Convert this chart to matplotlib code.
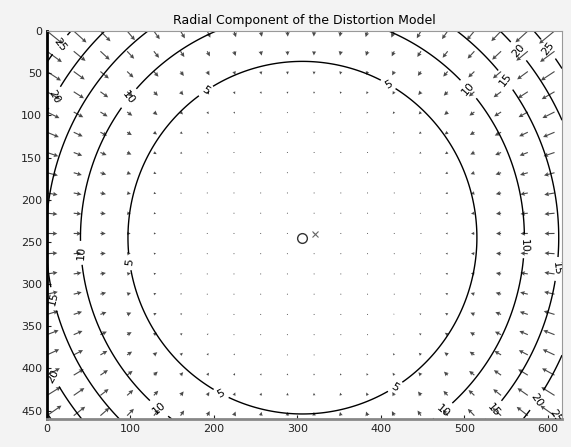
import numpy as np
import matplotlib
matplotlib.use('Agg')
import matplotlib.pyplot as plt

# image size and quiver grid steps
nx, ny = 640, 480
nstep = 20

# principal point (o) and image centre (x)
cc = [306, 245]
img_center = [320.5, 240.5]

# radial distortion in pixels: d(r) = c1*r^3 + c2*r^5 (fitted to the contour radii)
c1 = 5.73e-7
c2 = -5.81e-13

levels = [5, 10, 15, 20, 25]

# where the contour labels sit (data coords)
label_pos = [(96, 274), (191, 72), (406, 68), (209, 429), (414, 417),
             (41, 263), (96, 78), (506, 68), (568, 255), (476, 452), (138, 443),
             (6, 318), (610, 282), (552, 56), (536, 450),
             (8, 78), (566, 23), (580, 433), (11, 407),
             (14, 15), (598, 23), (608, 455)]

xlim = (0, 617)
ylim = (460, 0)


def displacement(x, y):
    dx = x - cc[0]
    dy = y - cc[1]
    r2 = dx**2 + dy**2
    f = c1 * r2 + c2 * r2**2
    return -f * dx, -f * dy


fig = plt.figure(figsize=(5.71, 4.47), dpi=100, facecolor='#f3f3f3')
ax = fig.add_axes([0.0823, 0.0626, 0.902, 0.868])
ax.set_facecolor('white')

# arrows
u, v = np.meshgrid(np.arange(0, nx, nx / nstep), np.arange(0, ny, ny / nstep))
du, dv = displacement(u, v)
ax.quiver(u, v, du, dv, angles='xy', scale_units='xy', scale=1.2,
          color='#4a4a4a', width=0.0022, headwidth=4, headlength=4,
          headaxislength=3.5)

# contours of the radial displacement magnitude
xs = np.linspace(xlim[0], xlim[1], 400)
ys = np.linspace(0, ylim[0], 300)
X, Y = np.meshgrid(xs, ys)
DX, DY = displacement(X, Y)
mag = np.hypot(DX, DY)
cs = ax.contour(X, Y, mag, levels=levels, colors='black', linewidths=1.0)
ax.clabel(cs, fmt='%d', fontsize=8, inline=True, manual=label_pos)

ax.plot(cc[0], cc[1], 'o', mfc='none', mec='#333333', ms=7, mew=1)
ax.plot(img_center[0], img_center[1], 'x', color='#666666', ms=4, mew=0.8)

ax.set_xlim(*xlim)
ax.set_ylim(*ylim)
ax.set_xticks([0, 100, 200, 300, 400, 500, 600])
ax.set_yticks([0, 50, 100, 150, 200, 250, 300, 350, 400, 450])
ax.tick_params(direction='in', length=3, labelsize=8, colors='#222222')
ax.spines['left'].set_linewidth(2)
ax.spines['left'].set_color('black')
ax.spines['bottom'].set_linewidth(2)
ax.spines['bottom'].set_color('#888888')
ax.spines['top'].set_color('#999999')
ax.spines['right'].set_color('#999999')
ax.set_title('Radial Component of the Distortion Model', fontsize=9, pad=5)

fig.savefig('out.png', dpi=100, facecolor=fig.get_facecolor())
